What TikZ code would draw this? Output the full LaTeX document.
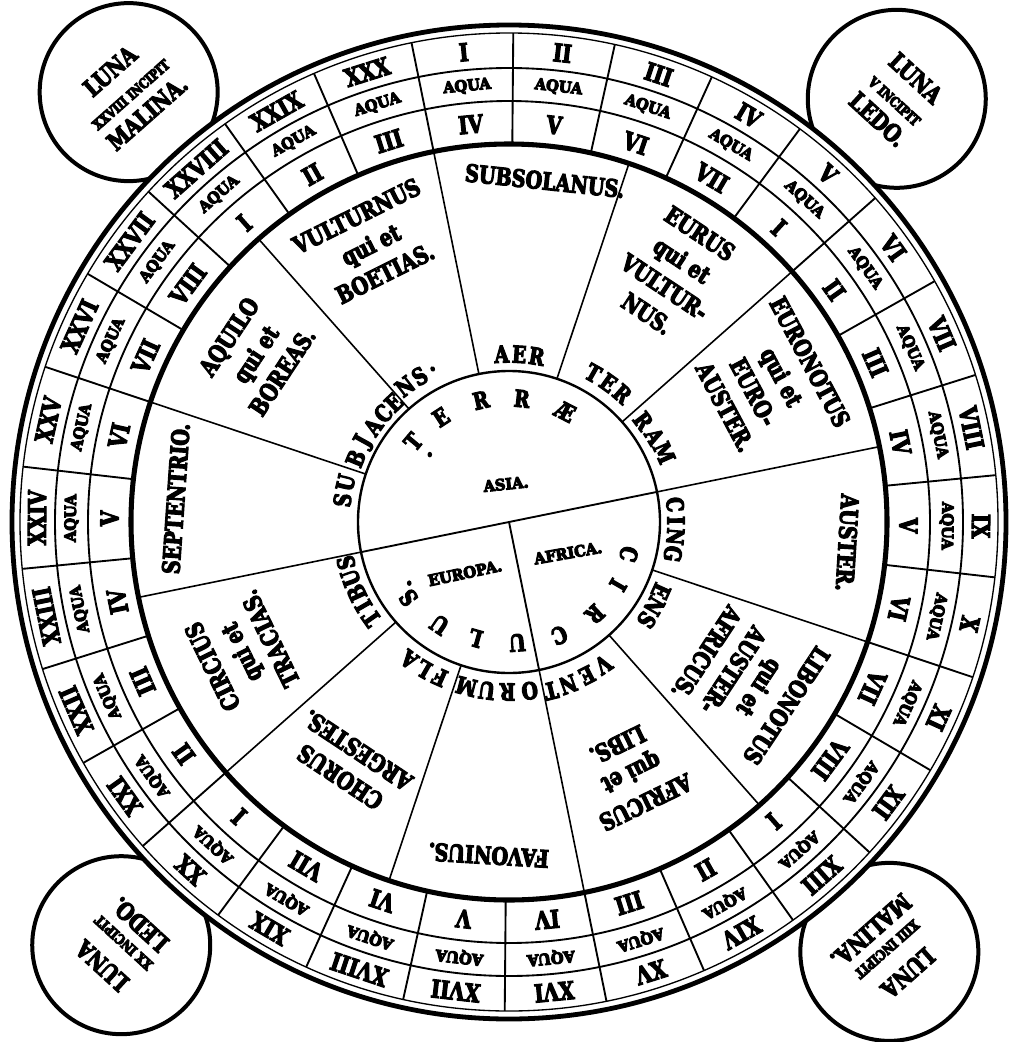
\documentclass[tikz,border=0pt]{standalone}
\usepackage{fontspec}
\newfontfamily\df{DejaVu Serif}[FakeStretch=0.8]
\newfontfamily\dfw{DejaVu Serif}[FakeStretch=0.95]
\newcommand{\heavy}{\special{pdf:literal direct 2 Tr 0.8 w}}
\tikzset{
  every node/.style={inner sep=0pt, outer sep=0pt},
  num/.style={font=\df\bfseries\fontsize{18.5}{18.5}\selectfont\heavy},
  aqua/.style={font=\dfw\bfseries\fontsize{11.5}{11.5}\selectfont\heavy},
  wind/.style={font=\df\bfseries\fontsize{18}{24}\selectfont\heavy, align=center},
  circ/.style={font=\df\bfseries\fontsize{17.5}{17.5}\selectfont\heavy},
  cont/.style={font=\dfw\bfseries\fontsize{11.5}{11.5}\selectfont\heavy},
  luna/.style={font=\df\bfseries\fontsize{18}{21}\selectfont\heavy, align=center},
  thinline/.style={line width=1.4pt},
  thickline/.style={line width=3.8pt},
}
\newcommand{\smalltxt}[1]{{\fontsize{10.5}{12}\selectfont #1}}
\begin{document}
\begin{tikzpicture}[x=0.75pt,y=0.75pt]
\fill[white] (0,0) rectangle (1011,-1042);
\useasboundingbox (0,0) rectangle (1011,-1042);
\begin{scope}[shift={(509,-522)}]
% LUNA circles
\foreach \a/\nm in {131.5/tl,47.5/tr,-48.5/br,-132.5/bl}{
  \draw[line width=3pt, fill=white] (\a:574) circle (89);
}
% main disk
\fill[white] (0,0) circle (498);
\draw[line width=3.6pt] (0,0) circle (497);
\draw[line width=1pt] (0,0) circle (489);
\draw[thinline] (0,0) circle (454) (0,0) circle (421);
\draw[thickline] (0,0) circle (378);
\draw[line width=1.8pt] (0,0) circle (151);
\foreach \k in {0,...,29} \draw[thinline] ({89.5+12*\k}:378) -- ({89.5+12*\k}:489);
\foreach \k in {0,...,11} \draw[line width=1.2pt] ({11.5+30*\k}:151) -- ({11.5+30*\k}:378);
\draw[line width=1.4pt] (191.5:151) -- (11.5:151);
\draw[line width=1.4pt] (0,0) -- (281.5:151);
% outer numbers and aqua
\foreach \n [count=\i from 0] in {I,II,III,IV,V,VI,VII,VIII,IX,X,XI,XII,XIII,XIV,XV,XVI,XVII,XVIII,XIX,XX,XXI,XXII,XXIII,XXIV,XXV,XXVI,XXVII,XXVIII,XXIX,XXX}{
  \pgfmathsetmacro\a{95.5-12*\i}
  \pgfmathsetmacro\r{\a-90}
  \node[num, rotate=\r] (o\i) at (\a:472) {\n};
  \node[aqua, rotate=\r] (q\i) at (\a:437.5) {AQUA};
}
% inner numbers
\foreach \n [count=\i from 0] in {IV,V,VI,VII,I,II,III,IV,V,VI,VII,VIII,I,II,III,IV,V,VI,VII,I,II,III,IV,V,VI,VII,VIII,I,II,III}{
  \pgfmathsetmacro\a{95.5-12*\i}
  \pgfmathsetmacro\r{\a-90}
  \node[num, rotate=\r] (n\i) at (\a:399.5) {\n};
}
% winds
\node[wind, rotate=-6] (w1) at (84:343) {SUBSOLANUS.};
\node[wind, rotate=-33.5] (w2) at (56.5:298) {EURUS\\qui et\\VULTUR-\\NUS.};
\node[wind, rotate=-62] (w3) at (28:293) {EURONOTUS\\qui et\\EURO-\\AUSTER.};
\node[wind, rotate=-93.5] (w4) at (-3.5:339) {AUSTER.};
\node[wind, rotate=-123.5] (w5) at (-33.5:285) {LIBONOTUS\\qui et\\AUSTER-\\AFRICUS.};
\node[wind, rotate=-154] (w6) at (-64:280) {AFRICUS\\qui et\\LIBS.};
\node[wind, rotate=-183.5] (w7) at (-93.5:334) {FAVONIUS.};
\node[wind, rotate=146.5] (w8) at (236.5:290) {CHORUS\\ARGESTES.};
\node[wind, rotate=116] (w9) at (206:298) {CIRCIUS\\qui et\\TRACIAS.};
\node[wind, rotate=86] (w10) at (176:334) {SEPTENTRIO.};
\node[wind, rotate=56.5] (w11) at (146.5:304) {AQUILO\\qui et\\BOREAS.};
\node[wind, rotate=26.5] (w12) at (116.5:310) {VULTURNUS\\qui et\\BOETIAS.};
% text around the earth circle (outside)
\foreach \a/\rr/\l [count=\i] in {92.5/168/A,86.5/168/E,80.5/168/R,
  60.5/171/T,54.5/171/E,48.5/171/R,37/168/R,30.5/169/A,24/170/M,
  6/167/C,0.5/167/I,-5/167/N,-11/167/G,-24.5/167/E,-30/168/N,-35.5/169/S,
  -56.5/171/V,-63/172/E,-70/173/N,-76/174/T,
  -83/170/O,-90.5/170/R,-97.5/170/U,-104.5/170/M,
  -114/170/F,-120/170/L,-126/170/A,
  -145/168/T,-150/168/I,-155/168/B,-160.5/168/U,-166/168/S,
  172.5/168/S,166.5/168/U,
  157.5/166/B,151/166/J,145/166/A,139.2/166/C,134/166/E,
  127.5/171/N,121.5/171/S,116.5/171/.}{
  \pgfmathsetmacro\r{\a-90}
  \node[circ, rotate=\r] (c\i) at (\a:\rr) {\l};
}
% inside the earth circle
\foreach \a/\rr/\l [count=\i] in {140/125/T,123/125/E,103/125/R,84/124/R,63/124/Æ,
  -15/124/C,-30/126/I,-47/126/R,-66/124/C,-86/121/U,-106/121/L,-124/124/U,-143/126/S}{
  \pgfmathsetmacro\r{\a-90}
  \node[circ, rotate=\r] (t\i) at (\a:\rr) {\l};
}
\node[circ] (tdot) at (139.6:104) {.};
\node[circ] (sdot) at (-148.5:117) {.};
\node[cont, rotate=6] (asia) at (-3,38) {ASIA.};
\node[cont, rotate=12] (europa) at (-44,-51) {EUROPA.};
\node[cont, rotate=10] (africa) at (59,-31) {AFRICA.};
% LUNA texts
\node[luna, rotate=41.5] (l1) at (131.5:574) {LUNA\\\smalltxt{XXVIII INCIPIT}\\MALINA.};
\node[luna, rotate=-42.5] (l2) at (47.5:574) {LUNA\\\smalltxt{V INCIPIT}\\LEDO.};
\node[luna, rotate=-138.5] (l3) at (-48.5:574) {LUNA\\\smalltxt{XIII INCIPIT}\\MALINA.};
\node[luna, rotate=137.5] (l4) at (-132.5:574) {LUNA\\\smalltxt{XX INCIPIT}\\LEDO.};
\end{scope}
\end{tikzpicture}
\end{document}
